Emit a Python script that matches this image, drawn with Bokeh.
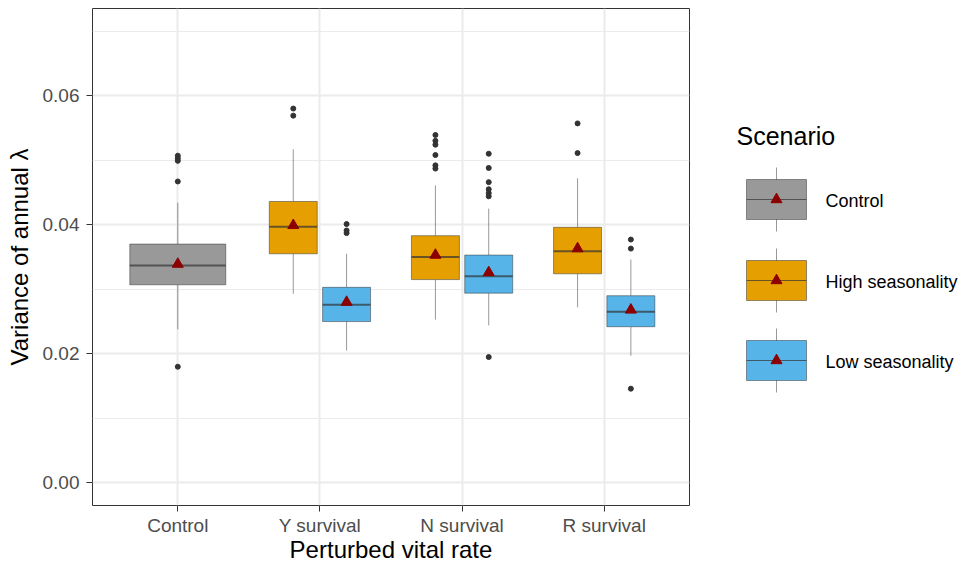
from bokeh.plotting import figure
from bokeh.models import Range1d, FixedTicker, NumeralTickFormatter, ColumnDataSource
from bokeh.layouts import row
from bokeh.core.properties import value
from bokeh.embed import file_html
from bokeh.resources import INLINE

# ---------------- data ----------------
categories = ["Control", "Y survival", "N survival", "R survival"]
scenarios = ["Control", "High seasonality", "Low seasonality"]
scenario_colors = ["#999999", "#E69F00", "#56B4E9"]

# one entry per box: (category, scenario)
box_category = ["Control", "Y survival", "Y survival", "N survival", "N survival", "R survival", "R survival"]
box_scenario = ["Control", "High seasonality", "Low seasonality", "High seasonality", "Low seasonality",
                "High seasonality", "Low seasonality"]
whisker_low = [0.0238, 0.0293, 0.0205, 0.0253, 0.0244, 0.0272, 0.0197]
q1 = [0.0307, 0.0355, 0.0250, 0.0315, 0.0294, 0.0324, 0.0242]
median = [0.0337, 0.0397, 0.0276, 0.0350, 0.0320, 0.0359, 0.0265]
q3 = [0.0370, 0.0436, 0.0303, 0.0383, 0.0353, 0.0396, 0.0290]
whisker_high = [0.0434, 0.0517, 0.0355, 0.0461, 0.0425, 0.0472, 0.0346]
means = [0.0339, 0.0399, 0.0280, 0.0353, 0.0326, 0.0363, 0.0268]
outliers = [
    [0.0507, 0.0503, 0.0499, 0.0467, 0.0180],
    [0.0580, 0.0569],
    [0.0401, 0.0391, 0.0387],
    [0.0539, 0.0530, 0.0524, 0.0508, 0.0492, 0.0487],
    [0.0510, 0.0488, 0.0466, 0.0455, 0.0449, 0.0444, 0.0195],
    [0.0557, 0.0511],
    [0.0377, 0.0363, 0.0146],
]

y_ticks = [0.0, 0.02, 0.04, 0.06]
y_minor = [0.01, 0.03, 0.05, 0.07]

# ---------------- layout helpers (dodge) ----------------
DODGE = 0.75
PAD = 0.9
xc, half = [], []
for cat, sc in zip(box_category, box_scenario):
    ci = categories.index(cat) + 1
    n = box_category.count(cat)
    if n == 1:
        xc.append(ci)
        half.append(DODGE * PAD / 2)
    else:
        k = [s for c, s in zip(box_category, box_scenario) if c == cat].index(sc)
        slot = DODGE / n
        xc.append(ci - DODGE / 2 + slot * (k + 0.5))
        half.append(slot * PAD / 2)
fills = [scenario_colors[scenarios.index(s)] for s in box_scenario]

src = ColumnDataSource(dict(
    x=xc, left=[a - b for a, b in zip(xc, half)], right=[a + b for a, b in zip(xc, half)],
    lo=whisker_low, q1=q1, med=median, q3=q3, hi=whisker_high, mean=means, fill=fills))

out_x, out_y = [], []
for x, ys in zip(xc, outliers):
    out_x += [x] * len(ys)
    out_y += ys

FONT = "Liberation Sans"
EDGE = "#333333"
EDGE_ALPHA = 0.5

TOP = 8
FRAME_H = 497
BOTTOM = 61
LEFT = 92
FRAME_W = 597

p = figure(frame_width=FRAME_W, frame_height=FRAME_H, x_range=Range1d(0.4, 4.6), y_range=Range1d(-0.0035, 0.0735),
           output_backend="svg", toolbar_location=None,
           min_border_left=LEFT, min_border_right=1, min_border_top=TOP, min_border_bottom=BOTTOM)
p.background_fill_color = "white"
p.border_fill_color = "white"
p.outline_line_color = "#333333"
p.outline_line_width = 1

# grid
p.xaxis.ticker = FixedTicker(ticks=list(range(1, len(categories) + 1)))
p.xaxis.major_label_overrides = {i + 1: c for i, c in enumerate(categories)}
p.yaxis.ticker = FixedTicker(ticks=y_ticks, minor_ticks=y_minor)
p.yaxis.formatter = NumeralTickFormatter(format="0.00")
p.xgrid.grid_line_color = "#EBEBEB"
p.xgrid.grid_line_width = 2
p.ygrid.grid_line_color = "#EBEBEB"
p.ygrid.grid_line_width = 2
p.ygrid.minor_grid_line_color = "#EBEBEB"
p.ygrid.minor_grid_line_width = 1

for ax in (p.xaxis, p.yaxis):
    ax.axis_line_color = None
    ax.major_tick_line_color = "#333333"
    ax.major_tick_in = 0
    ax.major_tick_out = 6
    ax.minor_tick_line_color = None
    ax.major_label_text_font = FONT
    ax.major_label_text_font_size = "19px"
    ax.major_label_text_color = "#4D4D4D"
    ax.major_label_text_line_height = 1.0
    ax.axis_label_text_font = FONT
    ax.axis_label_text_font_size = "24px"
    ax.axis_label_text_font_style = "normal"
    ax.axis_label_text_color = "black"
    ax.axis_label_text_line_height = 1.0

p.xaxis.axis_label = "Perturbed vital rate"
p.yaxis.axis_label = "Variance of annual λ"
p.xaxis.major_label_standoff = 3
p.xaxis.axis_label_standoff = -3
p.yaxis.major_label_standoff = 7
p.yaxis.axis_label_standoff = 7

# boxes
p.segment(x0="x", y0="q3", x1="x", y1="hi", source=src, line_color=EDGE, line_alpha=EDGE_ALPHA, line_width=1)
p.segment(x0="x", y0="q1", x1="x", y1="lo", source=src, line_color=EDGE, line_alpha=EDGE_ALPHA, line_width=1)
p.quad(left="left", right="right", bottom="q1", top="q3", source=src, fill_color="fill",
       line_color=EDGE, line_alpha=EDGE_ALPHA, line_width=1)
p.segment(x0="left", y0="med", x1="right", y1="med", source=src, line_color=EDGE, line_alpha=0.7, line_width=2)
p.scatter(out_x, out_y, size=5, color="#333333")
p.scatter(x="x", y="mean", source=src, marker="triangle", size=11, color="#8B0000")

# ---------------- legend panel (pixel coordinates) ----------------
LEG_X0 = LEFT + FRAME_W + 2
LEG_W = 958 - (LEFT + FRAME_W + 1)
leg = figure(frame_width=LEG_W, frame_height=FRAME_H, x_range=Range1d(LEG_X0, LEG_X0 + LEG_W),
             y_range=Range1d(TOP + 1 + FRAME_H, TOP + 1),
             output_backend="svg", toolbar_location=None,
             min_border_left=0, min_border_right=0, min_border_top=TOP, min_border_bottom=BOTTOM)
leg.axis.visible = False
leg.grid.visible = False
leg.outline_line_color = None
leg.background_fill_color = "white"
leg.border_fill_color = "white"

key_cy = [200, 281, 361]
kx0, kx1, kxc = 747, 807, 777
leg.text(x=[737], y=[136.5], text=["Scenario"], text_font=value(FONT), text_font_size="25px",
         text_baseline="middle", text_align="left", text_color="black")
leg.segment(x0=[kxc] * 3, y0=[c - 32 for c in key_cy], x1=[kxc] * 3, y1=[c + 32 for c in key_cy],
            line_color=EDGE, line_alpha=EDGE_ALPHA, line_width=1)
leg.quad(left=[kx0] * 3, right=[kx1] * 3, top=[c - 20 for c in key_cy], bottom=[c + 20 for c in key_cy],
         fill_color=scenario_colors, line_color=EDGE, line_alpha=EDGE_ALPHA, line_width=1)
leg.segment(x0=[kx0] * 3, y0=key_cy, x1=[kx1] * 3, y1=key_cy, line_color=EDGE, line_alpha=0.7, line_width=1)
leg.scatter([kxc] * 3, key_cy, marker="triangle", size=11, color="#8B0000")
leg.text(x=[826] * 3, y=[c + 1 for c in key_cy], text=scenarios, text_font=value(FONT), text_font_size="18px",
         text_baseline="middle", text_align="left", text_color="black")

layout = row(p, leg)
open("out.html", "w").write(file_html(layout, INLINE))
